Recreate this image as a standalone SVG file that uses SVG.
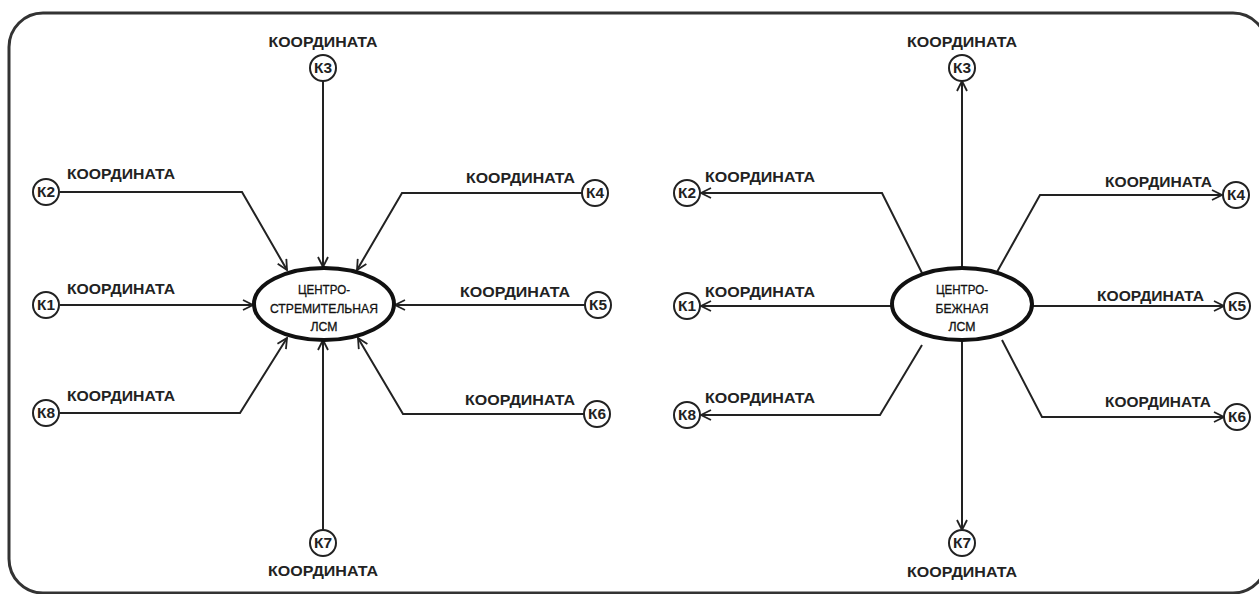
<svg xmlns="http://www.w3.org/2000/svg" width="1259" height="594" viewBox="0 0 1259 594">
<defs>
<marker id="arr" viewBox="0 0 12 12" refX="11" refY="6" markerWidth="12" markerHeight="12" markerUnits="userSpaceOnUse" orient="auto">
<path d="M1,1 L11,6 L1,11" fill="none" stroke="#222" stroke-width="1.8"/>
</marker>
<style>
.frame{fill:#fff;stroke:#333;stroke-width:3}
.k{fill:#fff;stroke:#222;stroke-width:2}
.kt{font-family:"Liberation Sans",Arial,sans-serif;font-size:14px;font-weight:bold;fill:#222;text-anchor:middle}
.lbl{font-family:"Liberation Sans",Arial,sans-serif;font-size:14px;font-weight:bold;fill:#222}
.c{text-anchor:middle}
.e{fill:#fff;stroke:#111;stroke-width:4}
.et{font-family:"Liberation Sans",Arial,sans-serif;font-size:13px;fill:#111;stroke:#111;stroke-width:0.3;text-anchor:middle}
.ln{fill:none;stroke:#222;stroke-width:2}
</style>
</defs>
<rect x="0" y="0" width="1259" height="594" fill="#fff"/>
<rect class="frame" x="9" y="13" width="1258" height="580" rx="34" ry="34"/>

<g id="connectors">
<path class="ln" d="M323,81 L323,267" marker-end="url(#arr)"/>
<path class="ln" d="M60,192 L242,192 L287,270" marker-end="url(#arr)"/>
<path class="ln" d="M60,305 L253,305" marker-end="url(#arr)"/>
<path class="ln" d="M60,413 L240,413 L287,338" marker-end="url(#arr)"/>
<path class="ln" d="M582,193 L402,193 L357,270" marker-end="url(#arr)"/>
<path class="ln" d="M585,305 L395,305" marker-end="url(#arr)"/>
<path class="ln" d="M584,414 L403,414 L358,338" marker-end="url(#arr)"/>
<path class="ln" d="M323,530 L323,340" marker-end="url(#arr)"/>
<path class="ln" d="M962,268 L962,81" marker-end="url(#arr)"/>
<path class="ln" d="M922,273 L882,193 L701,193" marker-end="url(#arr)"/>
<path class="ln" d="M892,306 L701,306" marker-end="url(#arr)"/>
<path class="ln" d="M922,345 L880,415 L701,415" marker-end="url(#arr)"/>
<path class="ln" d="M997,272 L1040,195 L1222,195" marker-end="url(#arr)"/>
<path class="ln" d="M1032,306 L1224,306" marker-end="url(#arr)"/>
<path class="ln" d="M1002,340 L1042,417 L1224,417" marker-end="url(#arr)"/>
<path class="ln" d="M962,340 L962,530" marker-end="url(#arr)"/>
</g>

<g id="L-center">
<ellipse class="e" cx="324" cy="304" rx="70" ry="36"/>
<text class="et" x="324" y="294" textLength="52" lengthAdjust="spacingAndGlyphs">ЦЕНТРО-</text>
<text class="et" x="324" y="313" textLength="108" lengthAdjust="spacingAndGlyphs">СТРЕМИТЕЛЬНАЯ</text>
<text class="et" x="324" y="331" textLength="27" lengthAdjust="spacingAndGlyphs">ЛСМ</text>
</g>
<g id="L-K3">
<text class="lbl c" x="323" y="47" textLength="109" lengthAdjust="spacingAndGlyphs">КООРДИНАТА</text>
<circle class="k" cx="323" cy="68" r="13"/>
<text class="kt" x="323" y="73" textLength="18" lengthAdjust="spacingAndGlyphs">К3</text>
</g>
<g id="L-K2">
<circle class="k" cx="46" cy="192" r="13"/>
<text class="kt" x="46" y="197" textLength="18" lengthAdjust="spacingAndGlyphs">К2</text>
<text class="lbl" x="67" y="179" textLength="108" lengthAdjust="spacingAndGlyphs">КООРДИНАТА</text>
</g>
<g id="L-K1">
<circle class="k" cx="46" cy="305" r="13"/>
<text class="kt" x="46" y="310" textLength="18" lengthAdjust="spacingAndGlyphs">К1</text>
<text class="lbl" x="67" y="294" textLength="108" lengthAdjust="spacingAndGlyphs">КООРДИНАТА</text>
</g>
<g id="L-K8">
<circle class="k" cx="46" cy="413" r="13"/>
<text class="kt" x="46" y="418" textLength="18" lengthAdjust="spacingAndGlyphs">К8</text>
<text class="lbl" x="67" y="401" textLength="108" lengthAdjust="spacingAndGlyphs">КООРДИНАТА</text>
</g>
<g id="L-K4">
<circle class="k" cx="595" cy="193" r="13"/>
<text class="kt" x="595" y="198" textLength="18" lengthAdjust="spacingAndGlyphs">К4</text>
<text class="lbl" x="466" y="183" textLength="109" lengthAdjust="spacingAndGlyphs">КООРДИНАТА</text>
</g>
<g id="L-K5">
<circle class="k" cx="598" cy="305" r="13"/>
<text class="kt" x="598" y="310" textLength="18" lengthAdjust="spacingAndGlyphs">К5</text>
<text class="lbl" x="460" y="297" textLength="110" lengthAdjust="spacingAndGlyphs">КООРДИНАТА</text>
</g>
<g id="L-K6">
<circle class="k" cx="597" cy="414" r="13"/>
<text class="kt" x="597" y="419" textLength="18" lengthAdjust="spacingAndGlyphs">К6</text>
<text class="lbl" x="465" y="405" textLength="110" lengthAdjust="spacingAndGlyphs">КООРДИНАТА</text>
</g>
<g id="L-K7">
<circle class="k" cx="323" cy="543" r="13"/>
<text class="kt" x="323" y="548" textLength="18" lengthAdjust="spacingAndGlyphs">К7</text>
<text class="lbl c" x="323" y="576" textLength="110" lengthAdjust="spacingAndGlyphs">КООРДИНАТА</text>
</g>

<g id="R-center">
<ellipse class="e" cx="962" cy="304" rx="70" ry="36"/>
<text class="et" x="962" y="294" textLength="52" lengthAdjust="spacingAndGlyphs">ЦЕНТРО-</text>
<text class="et" x="962" y="313" textLength="53" lengthAdjust="spacingAndGlyphs">БЕЖНАЯ</text>
<text class="et" x="962" y="331" textLength="27" lengthAdjust="spacingAndGlyphs">ЛСМ</text>
</g>
<g id="R-K3">
<text class="lbl c" x="962" y="47" textLength="110" lengthAdjust="spacingAndGlyphs">КООРДИНАТА</text>
<circle class="k" cx="962" cy="68" r="13"/>
<text class="kt" x="962" y="73" textLength="18" lengthAdjust="spacingAndGlyphs">К3</text>
</g>
<g id="R-K2">
<circle class="k" cx="687" cy="193" r="13"/>
<text class="kt" x="687" y="198" textLength="18" lengthAdjust="spacingAndGlyphs">К2</text>
<text class="lbl" x="705" y="182" textLength="110" lengthAdjust="spacingAndGlyphs">КООРДИНАТА</text>
</g>
<g id="R-K1">
<circle class="k" cx="687" cy="306" r="13"/>
<text class="kt" x="687" y="311" textLength="18" lengthAdjust="spacingAndGlyphs">К1</text>
<text class="lbl" x="705" y="297" textLength="110" lengthAdjust="spacingAndGlyphs">КООРДИНАТА</text>
</g>
<g id="R-K8">
<circle class="k" cx="687" cy="415" r="13"/>
<text class="kt" x="687" y="420" textLength="18" lengthAdjust="spacingAndGlyphs">К8</text>
<text class="lbl" x="705" y="403" textLength="110" lengthAdjust="spacingAndGlyphs">КООРДИНАТА</text>
</g>
<g id="R-K4">
<circle class="k" cx="1236" cy="195" r="13"/>
<text class="kt" x="1236" y="200" textLength="18" lengthAdjust="spacingAndGlyphs">К4</text>
<text class="lbl" x="1105" y="187" textLength="107" lengthAdjust="spacingAndGlyphs">КООРДИНАТА</text>
</g>
<g id="R-K5">
<circle class="k" cx="1237" cy="306" r="13"/>
<text class="kt" x="1237" y="311" textLength="18" lengthAdjust="spacingAndGlyphs">К5</text>
<text class="lbl" x="1097" y="301" textLength="107" lengthAdjust="spacingAndGlyphs">КООРДИНАТА</text>
</g>
<g id="R-K6">
<circle class="k" cx="1237" cy="417" r="13"/>
<text class="kt" x="1237" y="422" textLength="18" lengthAdjust="spacingAndGlyphs">К6</text>
<text class="lbl" x="1105" y="407" textLength="106" lengthAdjust="spacingAndGlyphs">КООРДИНАТА</text>
</g>
<g id="R-K7">
<circle class="k" cx="962" cy="543" r="13"/>
<text class="kt" x="962" y="548" textLength="18" lengthAdjust="spacingAndGlyphs">К7</text>
<text class="lbl c" x="962" y="577" textLength="110" lengthAdjust="spacingAndGlyphs">КООРДИНАТА</text>
</g>
</svg>
